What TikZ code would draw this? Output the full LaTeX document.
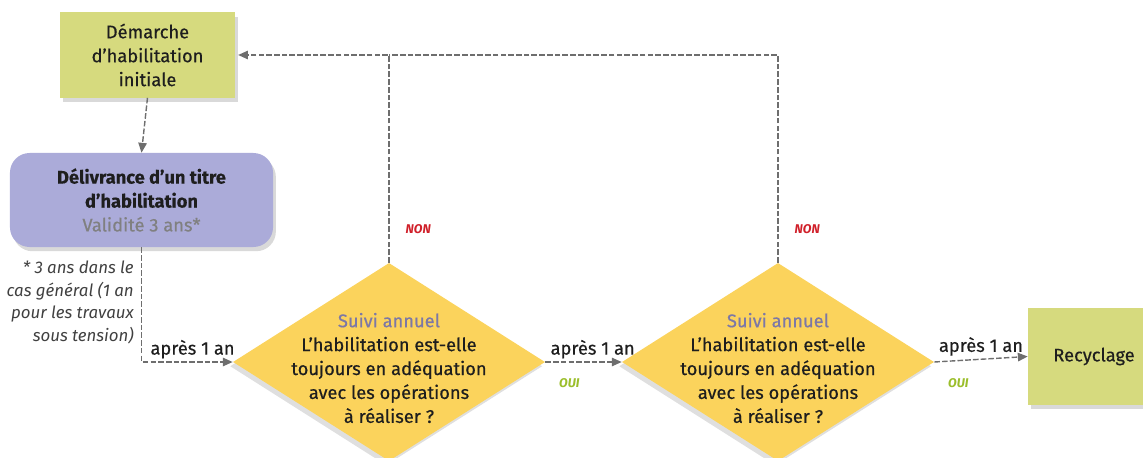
\documentclass[tikz,border=0pt]{standalone}
\usepackage{fontspec}
\setmainfont{Fira Sans}
\newfontfamily\medfont{Fira Sans}[FakeBold=0.5]
\usepackage{tikz}
\usetikzlibrary{arrows.meta, positioning, shapes.geometric, shadows, calc}
\definecolor{holive}{HTML}{D6DA7E}
\definecolor{hlavender}{HTML}{ABABD9}
\definecolor{hyellow}{HTML}{FBD35C}
\definecolor{hpurple}{HTML}{7C78A6}
\definecolor{hred}{HTML}{D0202A}
\definecolor{hgreen}{HTML}{9BBE2B}
\definecolor{hgray}{HTML}{6E6E6E}
\definecolor{htext}{HTML}{1E1E1E}
\tikzset{
  obox/.style={fill=holive, minimum width=4.375cm, minimum height=2.125cm,
               align=center, text=htext, inner sep=2pt,
               drop shadow={shadow xshift=2pt, shadow yshift=-3pt, opacity=0.3}},
  lbox/.style={fill=hlavender, rounded corners=14pt, minimum width=6.575cm,
               minimum height=2.35cm, align=center, text=htext,
               drop shadow={shadow xshift=2pt, shadow yshift=-3pt, opacity=0.3}},
  qdiam/.style={diamond, fill=hyellow, minimum width=7.8cm, minimum height=4.95cm,
                inner sep=0pt,
                drop shadow={shadow xshift=-2pt, shadow yshift=-3pt, opacity=0.25}},
  qtext/.style={align=center, text=htext, inner sep=0pt},
  conn/.style={-{Triangle[length=7pt, width=6pt]}, hgray, line width=1pt,
               dash pattern=on 4pt off 1.5pt},
  dline/.style={hgray, line width=1pt, dash pattern=on 4pt off 1.5pt},
  steplbl/.style={font=\fontsize{13}{16}\selectfont\medfont, text=htext, inner sep=2pt},
  nonlbl/.style={font=\fontsize{9}{11}\selectfont\bfseries\itshape, text=hred},
  ouilbl/.style={font=\fontsize{9}{11}\selectfont\bfseries\itshape, text=hgreen},
}

\begin{document}
\begin{tikzpicture}[x=0.025cm, y=-0.025cm,
    every node/.style={font=\fontsize{13}{17}\selectfont\medfont}]
  \useasboundingbox (0,0) rectangle (1143,458);

  %% Boxes
  \node[obox] (demarche) at (147.5,55)
    {Démarche\\d’habilitation\\initiale};
  \node[lbox] (delivrance) at (141.5,200)
    {\textbf{Délivrance d’un titre}\\\textbf{d’habilitation}\\\textcolor{gray}{Validité 3 ans*}};
  \node[obox, minimum width=3.3cm, minimum height=2.425cm] (recyclage) at (1094,356.5)
    {Recyclage};

  %% Annual checks
  \node[qdiam] (suivi1) at (389,362) {};
  \node[qdiam] (suivi2) at (778,362) {};
  \foreach \d in {suivi1, suivi2}{
    \node[qtext] (\d t) at ($(\d)+(0,6)$)
      {\textcolor{hpurple}{Suivi annuel}\\L’habilitation est-elle\\toujours en adéquation\\avec les opérations\\à réaliser ?};
  }

  %% Footnote
  \node[anchor=north east, align=right, text=htext!85, inner sep=0pt,
        font=\fontsize{12}{16}\selectfont\itshape] (note) at (134,261)
    {* 3 ans dans le\\cas général (1 an\\pour les travaux\\sous tension)};

  %% Main flow
  \draw[conn] (demarche.south) -- (delivrance.north);
  \draw[conn] (delivrance.south) |- (suivi1.west)
    node[steplbl, above, pos=0.78] {après 1 an};
  \draw[conn] (suivi1.east) -- (suivi2.west)
    node[steplbl, above, pos=0.62] {après 1 an}
    node[ouilbl, pos=0, below right=8pt and 6pt] {OUI};
  \draw[conn] (suivi2.east) -- (recyclage.west)
    node[steplbl, above, pos=0.5] {après 1 an}
    node[ouilbl, pos=0, below right=8pt and 6pt] {OUI};

  %% Back to initial step
  \coordinate (join) at (suivi1.north |- demarche.east);
  \draw[conn] (suivi1.north) |- ([xshift=2pt]demarche.east)
    node[nonlbl, pos=0.08, right=8pt] {NON};
  \draw[dline] (suivi2.north) |- (join)
    node[nonlbl, pos=0.08, right=8pt] {NON};

\end{tikzpicture}
\end{document}
